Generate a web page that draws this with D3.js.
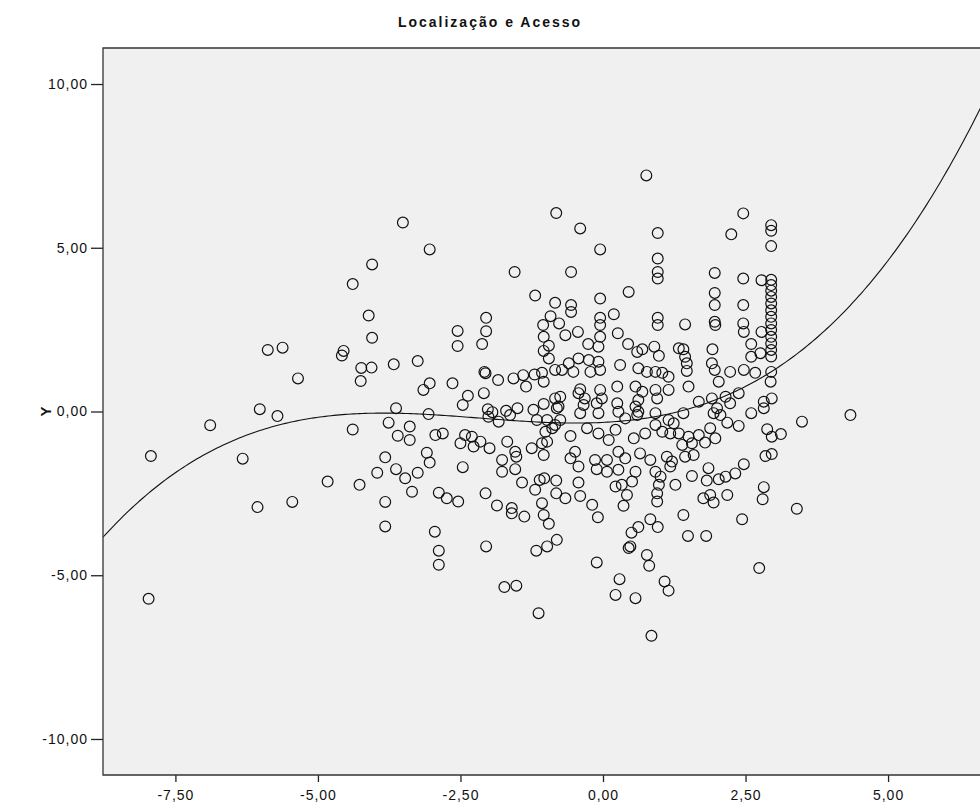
<!DOCTYPE html>
<html>
<head>
<meta charset="utf-8">
<script src="https://cdn.jsdelivr.net/npm/d3@7"></script>
<style>
body { margin: 0; background: #fff; }
svg text { font-family: "Liberation Sans", Arial, sans-serif; }
</style>
</head>
<body>
<div id="chart-area"></div>
<script>
// factor score (x) vs Y
const points = [
	[-4.05,4.49],[-4.39,3.89],[-4.11,2.93],[-4.05,2.25],[-5.88,1.88],[-5.62,1.95],[-4.55,1.85],[-4.58,1.71],
	[-5.35,1.01],[-4.24,1.33],[-4.06,1.34],[-3.67,1.44],[-4.25,0.93],[-6.02,0.07],[-5.71,-0.14],[-6.89,-0.42],
	[-3.63,0.10],[-3.76,-0.34],[-4.39,-0.55],[-3.60,-0.74],[-7.93,-1.36],[-6.32,-1.44],[-3.82,-1.40],[-3.96,-1.87],
	[-3.63,-1.76],[-4.83,-2.14],[-4.27,-2.24],[-6.06,-2.92],[-5.45,-2.76],[-3.82,-2.76],[-3.82,-3.51],[-7.97,-5.72],
	[-3.51,5.77],[-3.04,4.95],[-0.82,6.06],[-1.55,4.26],[-1.19,3.54],[-0.84,3.32],[-2.05,2.86],[-2.05,2.45],
	[-2.55,2.46],[-2.55,2.00],[-2.12,2.06],[-0.92,2.91],[-1.05,2.64],[-1.04,2.28],[-0.95,2.01],[-1.04,1.85],
	[-0.95,1.62],[-0.84,1.27],[-0.77,2.69],[-3.25,1.54],[-3.04,0.86],[-3.15,0.66],[-2.64,0.86],[-2.08,1.21],
	[-2.06,1.17],[-1.84,0.96],[-1.57,1.01],[-1.40,1.11],[-1.35,0.76],[-1.20,1.13],[-1.07,1.18],[-1.04,0.91],
	[-2.37,0.48],[-2.46,0.20],[-2.09,0.56],[-3.06,-0.08],[-2.02,0.07],[-1.94,-0.02],[-1.70,0.02],[-1.50,0.10],
	[-1.22,0.05],[-1.04,0.23],[-0.84,0.40],[-0.81,0.10],[-3.39,-0.46],[-3.39,-0.87],[-2.94,-0.72],[-2.81,-0.67],
	[-2.50,-0.97],[-2.42,-0.72],[-2.30,-0.77],[-2.27,-1.07],[-2.15,-0.92],[-1.99,-1.12],[-2.01,-0.16],[-1.83,-0.31],
	[-1.63,-0.11],[-1.68,-0.92],[-1.54,-1.23],[-1.52,-1.38],[-1.77,-1.48],[-1.77,-1.84],[-1.54,-1.76],[-3.09,-1.26],
	[-3.04,-1.56],[-3.47,-2.04],[-3.25,-1.87],[-3.35,-2.45],[-2.46,-1.70],[-2.88,-2.48],[-2.74,-2.65],[-2.54,-2.75],
	[-2.06,-2.50],[-1.86,-2.87],[-1.60,-2.95],[-1.60,-3.11],[-1.38,-3.21],[-1.42,-2.17],[-1.19,-2.39],[-1.11,-2.09],
	[-1.03,-2.04],[-0.82,-2.11],[-0.82,-2.50],[-1.07,-2.80],[-1.04,-3.16],[-0.95,-3.43],[-0.81,-3.92],[-0.98,-4.12],
	[-1.17,-4.25],[-2.95,-3.67],[-2.88,-4.25],[-2.88,-4.68],[-2.05,-4.12],[-1.73,-5.36],[-1.52,-5.32],[-1.13,-6.16],
	[-1.25,-1.12],[-1.07,-0.97],[-1.04,-1.33],[-1.16,-0.26],[-0.98,-0.26],[-0.84,-0.41],[-0.89,-0.51],[-1.01,-0.62],
	[-0.98,-0.92],[0.76,7.21],[-0.40,5.59],[-0.05,4.95],[0.96,5.45],[-0.56,4.26],[0.96,4.67],[0.96,4.26],
	[0.96,4.06],[0.45,3.65],[-0.05,3.45],[-0.56,3.25],[-0.56,3.04],[0.19,2.97],[-0.05,2.86],[-0.05,2.64],
	[0.96,2.86],[0.96,2.64],[-0.66,2.33],[-0.44,2.43],[0.26,2.39],[-0.05,2.28],[-0.26,2.06],[-0.08,1.98],
	[0.44,2.06],[0.60,1.82],[0.69,1.90],[0.90,1.98],[0.98,1.70],[1.33,1.93],[-0.60,1.47],[-0.43,1.62],
	[-0.25,1.57],[-0.08,1.52],[-0.05,1.27],[-0.52,1.21],[-0.72,1.27],[-0.22,1.21],[0.30,1.42],[0.62,1.32],
	[0.77,1.21],[0.92,1.21],[1.04,1.18],[1.15,1.06],[0.25,0.76],[-0.40,0.68],[-0.43,0.56],[-0.32,0.40],
	[-0.05,0.66],[-0.02,0.40],[-0.11,0.25],[-0.34,0.20],[0.57,0.76],[0.69,0.60],[0.62,0.35],[0.57,0.15],
	[0.92,0.66],[0.95,0.40],[1.15,0.66],[-0.75,0.45],[-0.78,0.15],[0.25,0.25],[0.27,-0.01],[-0.40,-0.05],
	[-0.08,-0.05],[0.62,-0.01],[0.92,-0.05],[-0.75,-0.26],[-0.28,-0.51],[-0.08,-0.67],[-0.57,-0.75],[0.10,-0.87],
	[0.22,-0.56],[0.39,-0.21],[0.60,-0.11],[0.54,-0.82],[0.74,-0.67],[0.92,-0.41],[1.04,-0.62],[1.18,-0.67],
	[1.24,-0.36],[1.15,-0.26],[-0.49,-1.23],[-0.57,-1.43],[-0.43,-1.68],[-0.14,-1.48],[-0.11,-1.76],[0.07,-1.48],
	[0.07,-1.84],[0.27,-1.23],[0.39,-1.43],[0.27,-1.78],[0.65,-1.28],[0.83,-1.48],[0.57,-1.84],[0.92,-1.84],
	[1.12,-1.38],[1.21,-1.53],[1.18,-1.68],[1.27,-2.24],[-0.43,-2.17],[-0.66,-2.65],[-0.40,-2.58],[-0.19,-2.85],
	[-0.09,-3.23],[0.22,-2.29],[0.33,-2.24],[0.51,-2.14],[0.42,-2.55],[0.36,-2.88],[0.98,-2.24],[0.95,-2.50],
	[0.95,-2.75],[1.01,-1.99],[0.83,-3.29],[0.96,-3.53],[0.62,-3.53],[0.50,-3.70],[0.48,-4.12],[0.45,-4.17],
	[-0.11,-4.61],[0.77,-4.38],[0.81,-4.71],[0.29,-5.12],[0.22,-5.60],[0.57,-5.70],[1.08,-5.19],[1.15,-5.47],
	[0.85,-6.85],[2.46,6.05],[2.25,5.41],[2.95,5.69],[2.95,5.52],[2.95,5.05],[1.96,4.23],[2.46,4.06],
	[2.78,4.01],[2.95,4.02],[2.95,3.86],[2.95,3.69],[2.95,3.50],[2.95,3.30],[2.95,3.09],[2.95,2.89],
	[2.95,2.69],[2.95,2.49],[2.95,2.28],[2.95,2.08],[2.95,1.88],[2.95,1.68],[1.96,3.62],[1.96,3.25],
	[2.46,3.25],[1.44,2.66],[1.96,2.74],[1.97,2.64],[2.46,2.69],[2.47,2.43],[2.78,2.43],[2.60,2.06],
	[1.41,1.90],[1.44,1.67],[1.47,1.47],[1.47,1.24],[1.92,1.90],[1.91,1.47],[1.96,1.27],[2.60,1.67],
	[2.76,1.78],[2.23,1.21],[2.47,1.27],[2.67,1.18],[2.95,1.21],[1.50,0.76],[2.03,0.91],[2.94,0.91],
	[1.68,0.30],[1.91,0.40],[2.15,0.45],[2.38,0.56],[2.23,0.25],[2.00,0.10],[1.41,-0.05],[2.60,-0.05],
	[2.82,0.30],[2.96,0.40],[2.82,0.10],[1.94,-0.05],[2.06,-0.11],[1.88,-0.51],[2.18,-0.34],[2.38,-0.44],
	[2.88,-0.54],[2.96,-0.77],[3.12,-0.69],[1.33,-0.67],[1.50,-0.77],[1.68,-0.72],[1.79,-0.95],[1.97,-0.82],
	[1.39,-1.02],[1.56,-0.97],[1.44,-1.38],[1.59,-1.33],[2.85,-1.36],[2.96,-1.30],[1.85,-1.73],[2.47,-1.61],
	[2.32,-1.89],[2.15,-1.99],[2.03,-2.07],[1.56,-1.97],[1.82,-2.11],[2.82,-2.31],[2.80,-2.68],[1.76,-2.65],
	[1.88,-2.55],[1.94,-2.78],[2.18,-2.55],[1.41,-3.16],[2.44,-3.29],[1.49,-3.80],[1.81,-3.80],[2.74,-4.78],
	[3.49,-0.31],[4.34,-0.11],[3.40,-2.97]
];

const xTicks = [-7.5, -5, -2.5, 0, 2.5, 5];
const yTicks = [-10, -5, 0, 5, 10];
// cubic fit line: a + b x + c x^2 + d x^3
const fitCoef = [-0.333, 0.0861, 0.1020, 0.01571];
const chartTitle = "Localização e Acesso";
const yTitle = "Y";

const margin = { left: 103, top: 48 };
const width = 1000;   // plot runs past the right edge of the picture
const height = 727;

const svg = d3.select("#chart-area").append("svg")
	.attr("width", 980)
	.attr("height", 809)
	.style("display", "block");

svg.append("text")
	.attr("x", 490)
	.attr("y", 27)
	.attr("text-anchor", "middle")
	.attr("font-size", "14px")
	.attr("font-weight", "bold")
	.style("letter-spacing", "2px")
	.attr("fill", "#111")
	.text(chartTitle);

svg.append("text")
	.attr("transform", `translate(51, ${margin.top + height / 2}) rotate(-90)`)
	.attr("text-anchor", "middle")
	.attr("font-size", "15px")
	.attr("font-weight", "bold")
	.attr("fill", "#111")
	.text(yTitle);

const g = svg.append("g")
	.attr("transform", `translate(${margin.left},${margin.top})`);

const x = d3.scaleLinear().domain([-8.77, 8.77]).range([0, width]);
const y = d3.scaleLinear().domain([-11.1, 11.1]).range([height, 0]);

g.append("clipPath").attr("id", "plot-clip")
	.append("rect").attr("width", width).attr("height", height);

g.append("rect")
	.attr("width", width)
	.attr("height", height)
	.attr("fill", "#f0f0f0");

const fmt = v => (v < 0 ? "-" : "") + Math.abs(v).toFixed(2).replace(".", ",");

const xAxis = g.append("g")
	.attr("transform", `translate(0, ${height})`)
	.call(d3.axisBottom(x).tickValues(xTicks).tickSize(7).tickPadding(8).tickFormat(fmt));

const yAxis = g.append("g")
	.call(d3.axisLeft(y).tickValues(yTicks).tickSize(12).tickPadding(3).tickFormat(fmt));

[xAxis, yAxis].forEach(a => {
	a.select(".domain").remove();
	a.selectAll("line").attr("stroke", "#222").attr("stroke-width", 1.3);
	a.selectAll("text")
		.attr("font-family", "Liberation Sans, Arial, sans-serif")
		.attr("font-size", "14px")
		.attr("fill", "#111")
		.style("letter-spacing", "1px");
});

const fit = xv => fitCoef[0] + fitCoef[1] * xv + fitCoef[2] * xv * xv + fitCoef[3] * xv * xv * xv;
const curveXs = d3.range(-8.77, 8.8, 0.05);

g.append("path")
	.datum(curveXs)
	.attr("clip-path", "url(#plot-clip)")
	.attr("fill", "none")
	.attr("stroke", "#111")
	.attr("stroke-width", 1.1)
	.attr("d", d3.line().x(d => x(d)).y(d => y(fit(d))));

g.append("g")
	.selectAll("circle")
	.data(points)
	.enter()
	.append("circle")
	.attr("cx", d => x(d[0]))
	.attr("cy", d => y(d[1]))
	.attr("r", 5.4)
	.attr("fill", "none")
	.attr("stroke", "#111")
	.attr("stroke-width", 1.2);

// frame: top, left and bottom edges
g.append("path")
	.attr("fill", "none")
	.attr("stroke", "#333")
	.attr("stroke-width", 1.3)
	.attr("d", `M${width},0H0V${height}H${width}`);
</script>
</body>
</html>
